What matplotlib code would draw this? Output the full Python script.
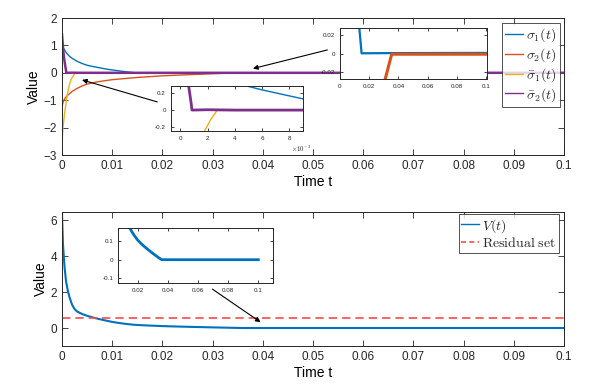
import numpy as np
import matplotlib.pyplot as plt
from matplotlib.lines import Line2D

plt.rcParams['font.family'] = 'Liberation Sans'
plt.rcParams['mathtext.fontset'] = 'cm'
plt.rcParams['text.color'] = '#262626'
plt.rcParams['axes.edgecolor'] = '#262626'
plt.rcParams['xtick.color'] = '#262626'
plt.rcParams['ytick.color'] = '#262626'

# colours (MATLAB default order)
c_blue = '#0072BD'
c_red = '#D95319'
c_yel = '#EDB120'
c_pur = '#7E2F8E'

# ---- data ----
t_s1 = [0, 0.0003, 0.0006, 0.001, 0.0015, 0.002, 0.003, 0.004, 0.005, 0.006,
        0.007, 0.008, 0.009, 0.010, 0.011, 0.012, 0.0132, 0.0148, 0.035, 0.1]
s1 = [1.05, 0.9, 0.8, 0.7, 0.6, 0.53, 0.42, 0.34, 0.275, 0.235,
      0.2, 0.165, 0.13, 0.105, 0.08, 0.055, 0.028, 0.0004, 0.0006, 0.0008]

t_s2 = [0, 0.0001, 0.0003, 0.0006, 0.001, 0.002, 0.003, 0.004, 0.005, 0.007,
        0.010, 0.015, 0.020, 0.025, 0.031, 0.0354, 0.1]
s2 = [-1.35, -1.15, -1.02, -0.93, -0.84, -0.68, -0.57, -0.48, -0.41, -0.33,
      -0.25, -0.17, -0.11, -0.07, -0.027, -0.0006, -0.0006]

t_sb1 = [0, 0.0002, 0.0005, 0.0008, 0.0011, 0.0014, 0.0018, 0.0022, 0.0027, 0.1]
sb1 = [-2.5, -2.0, -1.5, -1.1, -0.75, -0.48, -0.24, -0.12, -0.004, -0.004]

t_sb2 = [0, 0.0002, 0.0004, 0.0006, 0.0008, 0.00086, 0.002, 0.004, 0.1]
sb2 = [1.4, 0.9, 0.55, 0.3, 0.08, 0.0, 0.004, 0.0, 0.0]

t_V = [0, 0.0002, 0.0005, 0.0008, 0.0011, 0.0015, 0.002, 0.0025, 0.003, 0.004,
       0.005, 0.0065, 0.008, 0.010, 0.011, 0.012, 0.013, 0.0144, 0.016, 0.018,
       0.020, 0.022, 0.024, 0.026, 0.028, 0.030, 0.032, 0.034, 0.036, 0.1]
V = [6.3, 4.6, 3.4, 2.6, 2.15, 1.7, 1.3, 1.05, 0.92, 0.78,
     0.68, 0.56, 0.46, 0.34, 0.295, 0.255, 0.22, 0.18, 0.155, 0.13,
     0.108, 0.091, 0.076, 0.062, 0.049, 0.036, 0.024, 0.012, 0.0015, 0.0015]

residual = 0.55

xticks_main = [0, 0.01, 0.02, 0.03, 0.04, 0.05, 0.06, 0.07, 0.08, 0.09, 0.1]
xlabels_main = ['0', '0.01', '0.02', '0.03', '0.04', '0.05', '0.06', '0.07', '0.08', '0.09', '0.1']
labels_top = [r'$\sigma_1(t)$', r'$\sigma_2(t)$', r'$\bar{\sigma}_1(t)$', r'$\bar{\sigma}_2(t)$']


def style(ax, fs, length):
    ax.tick_params(direction='in', top=True, right=True, labelsize=fs,
                   length=length, width=0.6)
    for s in ax.spines.values():
        s.set_linewidth(0.7)


fig = plt.figure(figsize=(6.01, 3.89), dpi=100)

# ---------------- top panel ----------------
ax1 = fig.add_axes([0.1032, 0.6015, 0.8353, 0.3522])
ax1.plot(t_s1, s1, color=c_blue, lw=1)
ax1.plot(t_s2, s2, color=c_red, lw=1)
ax1.plot(t_sb1, sb1, color=c_yel, lw=1)
ax1.plot(t_sb2, sb2, color=c_pur, lw=1.8)
ax1.set_xlim(0, 0.1)
ax1.set_ylim(-3, 2)
ax1.set_xticks(xticks_main)
ax1.set_xticklabels(xlabels_main)
ax1.set_yticks([-3, -2, -1, 0, 1, 2])
ax1.set_xlabel('Time t', fontsize=10, labelpad=2)
ax1.set_ylabel('Value', fontsize=10, labelpad=2)
style(ax1, 8.5, 4)
handles = [Line2D([], [], color=c, lw=1) for c in (c_blue, c_red, c_yel, c_pur)]
leg = ax1.legend(handles, labels_top, loc='upper right', bbox_to_anchor=(0.992, 0.965),
                 fontsize=10, fancybox=False, edgecolor='#262626',
                 handlelength=1.3, handletextpad=0.2, labelspacing=0.15,
                 borderpad=0.25, borderaxespad=0)
leg.get_frame().set_linewidth(0.7)

ax1.annotate('', xy=(0.00345, -0.23), xytext=(0.0195, -1.09),
             arrowprops=dict(arrowstyle='-|>', color='k', lw=0.8, mutation_scale=7))
ax1.annotate('', xy=(0.0375, 0.13), xytext=(0.0534, 0.86),
             arrowprops=dict(arrowstyle='-|>', color='k', lw=0.8, mutation_scale=7))

# inset: early times
in1 = fig.add_axes([0.2840, 0.664, 0.2201, 0.1149])
in1.plot(t_s1, s1, color=c_blue, lw=1)
in1.plot(t_s2, s2, color=c_red, lw=1)
in1.plot(t_sb1, sb1, color=c_yel, lw=1)
in1.plot(t_sb2, sb2, color=c_pur, lw=2)
in1.set_xlim(-0.0007, 0.009)
in1.set_ylim(-0.24, 0.28)
in1.set_xticks([0, 0.002, 0.004, 0.006, 0.008])
in1.set_xticklabels(['0', '2', '4', '6', '8'])
in1.set_yticks([-0.2, 0, 0.2])
in1.set_yticklabels(['-0.2', '0', '0.2'])
style(in1, 4.5, 2)
in1.text(0.99, -0.3, r'$\times10^{-3}$', transform=in1.transAxes, fontsize=5,
         ha='center', va='top')

# inset: near zero
in2 = fig.add_axes([0.5657, 0.7969, 0.2441, 0.1303])
in2.plot(t_s1, s1, color=c_blue, lw=1.6)
in2.plot(t_s2, s2, color=c_red, lw=2.2)
in2.set_xlim(0, 0.1005)
in2.set_ylim(-0.027, 0.027)
in2.set_xticks([0, 0.02, 0.04, 0.06, 0.08, 0.1])
in2.set_xticklabels(['0', '0.02', '0.04', '0.06', '0.08', '0.1'])
in2.set_yticks([-0.02, 0, 0.02])
in2.set_yticklabels(['-0.02', '0', '0.02'])
style(in2, 4.5, 2)

# ---------------- bottom panel ----------------
ax2 = fig.add_axes([0.1032, 0.1105, 0.8353, 0.3445])
ax2.plot(t_V, V, color=c_blue, lw=1.5, label=r'$V(t)$')
ax2.axhline(residual, color='#FF4A4A', lw=1.2, ls=(0, (5, 3)),
            label=r'$\mathrm{Residual\ set}$')
ax2.set_xlim(0, 0.1)
ax2.set_ylim(-1, 6.45)
ax2.set_xticks(xticks_main)
ax2.set_xticklabels(xlabels_main)
ax2.set_yticks([0, 2, 4, 6])
ax2.set_xlabel('Time t', fontsize=10, labelpad=2)
ax2.set_ylabel('Value', fontsize=10, labelpad=2)
style(ax2, 8.5, 4)
h2 = [Line2D([], [], color=c_blue, lw=1),
      Line2D([], [], color='#FF4A4A', lw=1.2, ls=(0, (3, 2)))]
leg2 = ax2.legend(h2, [r'$V(t)$', r'$\mathrm{Residual\ set}$'], loc='upper right',
                  bbox_to_anchor=(0.990, 0.985), fontsize=10,
                  fancybox=False, edgecolor='#262626', handlelength=1.3,
                  handletextpad=0.2, labelspacing=0.1, borderpad=0.2,
                  borderaxespad=0)
leg2.get_frame().set_linewidth(0.7)

ax2.annotate('', xy=(0.040, 0.24), xytext=(0.0295, 2.25),
             arrowprops=dict(arrowstyle='-|>', color='k', lw=0.8, mutation_scale=7))

in3 = fig.add_axes([0.1968, 0.2717, 0.2569, 0.1414])
in3.plot(t_V, V, color=c_blue, lw=2)
in3.set_xlim(0.0072, 0.1095)
in3.set_ylim(-0.126, 0.171)
in3.set_xticks([0.02, 0.04, 0.06, 0.08, 0.1])
in3.set_xticklabels(['0.02', '0.04', '0.06', '0.08', '0.1'])
in3.set_yticks([-0.1, 0, 0.1])
in3.set_yticklabels(['-0.1', '0', '0.1'])
style(in3, 4.5, 2)

fig.savefig('out.png', dpi=100)
